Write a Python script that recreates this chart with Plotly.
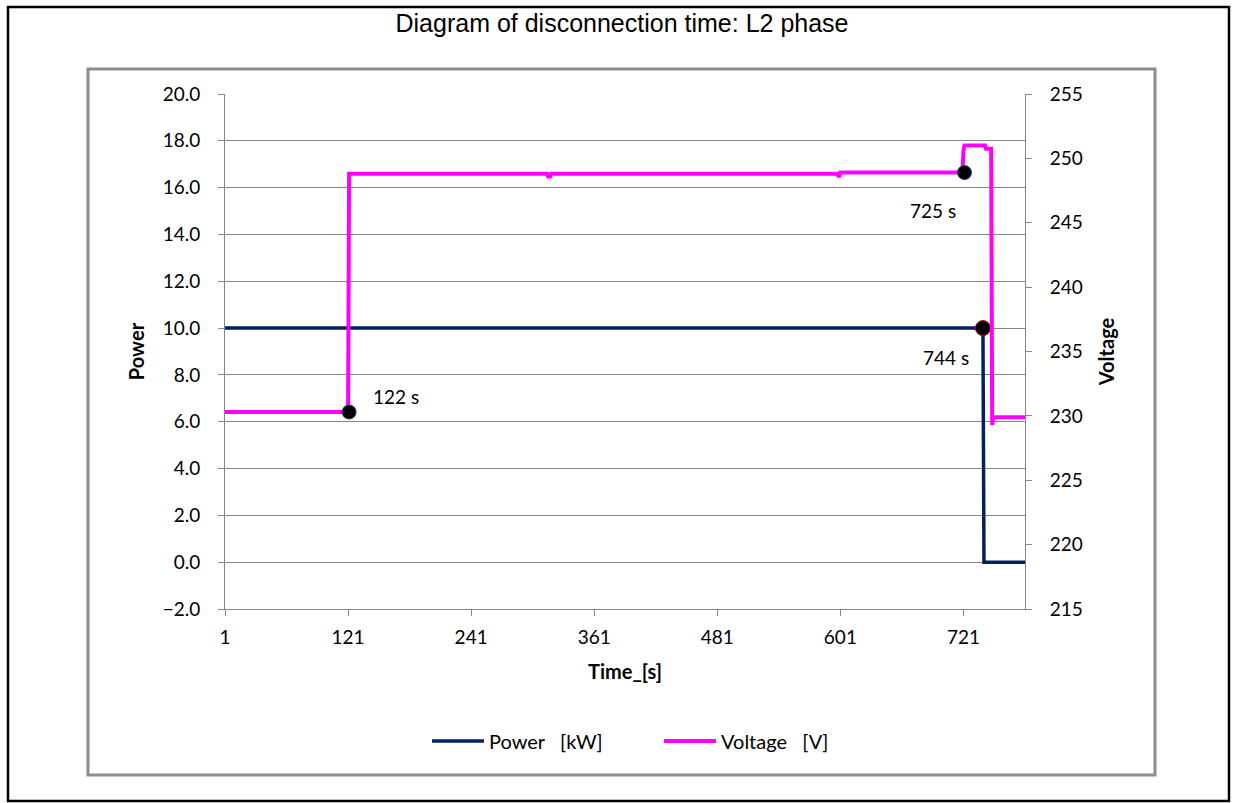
import plotly.graph_objects as go

# ---- data ----
power_time = [1, 740, 741, 781]
power_kw = [10.0, 10.0, 0.0, 0.0]

volt_time = [1, 121, 122, 315, 316, 318, 319, 598, 599, 600, 601, 720, 721, 722, 724, 742, 743, 748, 749, 750, 781]
volt_v = [230.3, 230.3, 248.8, 248.8, 248.6, 248.6, 248.8, 248.8, 248.65, 248.65, 248.9, 248.9, 250.6, 251.0, 251.0, 251.0, 250.75, 250.75, 229.3, 229.9, 229.9]

event_volt_time = [122, 722]
event_volt_v = [230.3, 248.9]
event_power_time = [740]
event_power_kw = [10.0]
event_labels = ["122 s", "725 s", "744 s"]

x_ticks = [1, 121, 241, 361, 481, 601, 721]

# ---- layout constants (pixels) ----
W, H = 1233, 803
L, R, T, B = 225, 1025, 94, 609
pw, ph = R - L, B - T

def px(x):
    return (x - L) / pw

def py(y):
    return (B - y) / ph

GRID = "#868686"
NAVY = "#002060"
PINK = "#FF00FF"
FONT = "Lato"

fig = go.Figure()
fig.add_trace(go.Scatter(x=power_time, y=power_kw, mode="lines", name="Power \u00a0\u00a0[kW]",
                         line=dict(color=NAVY, width=3.5), yaxis="y"))
fig.add_trace(go.Scatter(x=volt_time, y=volt_v, mode="lines", name="Voltage \u00a0\u00a0[V]",
                         line=dict(color=PINK, width=4), yaxis="y2"))
fig.add_trace(go.Scatter(x=event_volt_time, y=event_volt_v, mode="markers", showlegend=False,
                         marker=dict(color="black", size=14, line=dict(color="#1F3F7F", width=1)), yaxis="y2"))
fig.add_trace(go.Scatter(x=event_power_time, y=event_power_kw, mode="markers", showlegend=False,
                         marker=dict(color="black", size=15, line=dict(color="#C00000", width=1)), yaxis="y"))

ann_font = dict(family=FONT, size=19, color="black")
annotations = [
    dict(x=event_volt_time[0], y=event_volt_v[0], xref="x", yref="y2", text=event_labels[0],
         showarrow=False, xanchor="left", yanchor="middle", xshift=22, yshift=16, font=ann_font),
    dict(x=event_volt_time[1], y=event_volt_v[1], xref="x", yref="y2", text=event_labels[1],
         showarrow=False, xanchor="right", yanchor="middle", xshift=-6, yshift=-38, font=ann_font),
    dict(x=event_power_time[0], y=event_power_kw[0], xref="x", yref="y", text=event_labels[2],
         showarrow=False, xanchor="right", yanchor="middle", xshift=-12, yshift=-29, font=ann_font),
]

shapes = [
    # outer black frame
    dict(type="rect", xref="paper", yref="paper", x0=px(8), x1=px(1229), y0=py(801), y1=py(7),
         line=dict(color="black", width=2.5), fillcolor="rgba(0,0,0,0)", layer="below"),
    # inner chart-area gray frame
    dict(type="rect", xref="paper", yref="paper", x0=px(88), x1=px(1155), y0=py(775), y1=py(69),
         line=dict(color="#8C8C8C", width=3), fillcolor="rgba(0,0,0,0)", layer="below"),
]

fig.update_layout(
    width=W, height=H,
    margin=dict(l=L, r=W - R, t=T, b=H - B, autoexpand=False),
    paper_bgcolor="white", plot_bgcolor="white",
    title=dict(text="Diagram of disconnection time: L2 phase", x=0.5 + (622 - (L + R) / 2) / pw, xref="paper",
               xanchor="center", y=1 - 23 / H, yanchor="middle", yref="container",
               font=dict(family="Liberation Sans", size=25, color="black")),
    font=dict(family=FONT, size=19, color="black"),
    xaxis=dict(range=[1, 781], tickmode="array", tickvals=x_ticks, showgrid=False, zeroline=False,
               showline=True, linecolor=GRID, linewidth=1, ticks="outside", ticklen=6, tickcolor=GRID,
               ticklabelstandoff=5, tickfont=dict(family=FONT, size=19),
               title=dict(text="<b>Time_[s]</b>", font=dict(family=FONT, size=20), standoff=18)),
    yaxis=dict(range=[-2, 20], dtick=2, tick0=0, tickformat=".1f", showgrid=True, gridcolor=GRID, gridwidth=1,
               zeroline=False, showline=True, linecolor=GRID, linewidth=1, ticks="outside", ticklen=6,
               tickcolor=GRID, ticklabelstandoff=14, tickfont=dict(family=FONT, size=19),
               title=dict(text="<b>Power</b>", font=dict(family=FONT, size=20), standoff=12)),
    yaxis2=dict(range=[215, 255], dtick=5, overlaying="y", side="right", showgrid=False, zeroline=False,
                showline=True, linecolor=GRID, linewidth=1, ticks="outside", ticklen=6, tickcolor=GRID,
                ticklabelstandoff=14, tickfont=dict(family=FONT, size=19),
                title=dict(text="<b>Voltage</b>", font=dict(family=FONT, size=20), standoff=18)),
    legend=dict(orientation="h", x=px(427), xanchor="left",
                y=py(741), yanchor="middle", font=dict(family=FONT, size=20),
                itemwidth=52, entrywidthmode="pixels", entrywidth=165, bgcolor="rgba(0,0,0,0)"),
    annotations=annotations,
    shapes=shapes,
    showlegend=True,
)

fig.write_html("out.html", config={"displayModeBar": False},
               post_script="document.body.style.margin='0px';")
